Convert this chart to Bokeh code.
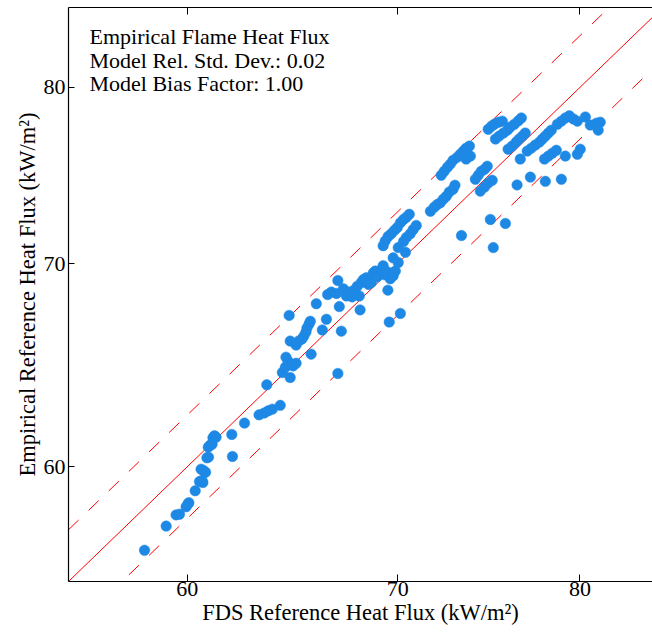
from bokeh.plotting import figure
from bokeh.models import LogAxis, Range1d, Label, FixedTicker, NumeralTickFormatter, CustomJSTickFormatter
from bokeh.embed import file_html
from bokeh.resources import INLINE

# FDS reference (x) vs empirical reference (y) heat flux, kW/m2
fds = [58.15, 59.08, 59.51, 59.66, 59.95, 60.07, 60.03, 60.35, 60.54, 60.65, 60.69, 60.61, 60.72,
       60.81, 60.87, 60.94, 60.93, 61.02, 61.10, 61.14, 61.21, 61.28, 61.99, 62.02, 62.57,
       63.24, 63.48, 63.67, 63.86, 64.23, 63.60, 64.33, 64.47, 64.60, 64.50, 64.70, 64.84, 64.98,
       64.70, 64.65, 64.98, 65.10, 65.26, 65.35, 65.45, 65.50, 65.60, 65.66, 65.70, 65.95, 66.24,
       66.44, 66.50, 66.68, 66.93, 67.00, 67.17, 67.07, 67.00, 67.27, 67.42, 67.56, 67.70, 67.80,
       67.96, 68.06, 68.16, 68.26, 68.41, 68.51, 68.66, 68.76, 68.86, 68.96, 69.06, 69.16, 69.26,
       69.36, 69.47, 69.50, 69.62, 69.77, 69.88, 70.03, 68.10, 69.57, 70.14,
       69.26, 69.36, 69.51, 69.67, 69.83, 69.98, 70.14, 70.30, 70.45, 70.60, 70.30, 70.45, 70.65,
       70.80, 70.96, 70.40, 70.03, 69.77,
       71.70, 71.90, 72.06, 72.22, 72.38, 72.54, 72.70, 72.90, 73.00, 73.35, 72.27, 72.43, 72.60,
       72.75, 72.90, 73.13, 73.29, 73.45, 73.60, 73.78, 73.60, 73.83, 74.10, 74.26, 74.42, 74.60,
       74.75, 74.37, 74.60, 74.80, 75.02, 74.92, 75.75, 75.08, 74.80, 74.98, 75.14, 75.36, 75.58,
       75.20, 75.40, 75.64, 75.86, 76.02, 76.25, 76.47, 76.64, 75.90, 76.13, 76.35, 76.52, 76.70,
       76.86, 76.40, 76.58, 76.97, 77.20, 77.43, 77.66, 77.83, 78.00, 78.17, 78.34, 77.95, 78.17,
       78.40, 78.63, 78.00, 78.92, 77.15, 78.69, 78.92, 79.15, 79.38, 79.62, 79.85, 80.32, 80.61,
       80.97, 81.20, 79.85, 80.02, 79.15, 81.08]
emp = [56.32, 57.36, 57.85, 57.88, 58.21, 58.39, 58.33, 58.92, 59.33, 59.38, 59.29, 59.89, 59.83,
       59.75, 60.41, 60.44, 60.90, 61.00, 61.03, 61.34, 61.43, 61.36, 61.49, 60.47, 62.02,
       62.41, 62.50, 62.60, 62.68, 62.86, 63.85, 64.45, 64.70, 65.00, 65.20, 64.20, 64.77, 64.90,
       66.00, 67.30, 65.80, 66.00, 66.10, 66.25, 66.45, 66.66, 66.86, 67.00, 65.35, 67.90, 66.56,
       67.10, 68.37, 68.50, 68.43, 64.40, 66.50, 67.75, 69.10, 68.67, 68.30, 68.50, 68.25, 68.60,
       68.80, 68.30, 69.00, 69.15, 69.25, 68.90, 69.00, 69.50, 69.60, 69.30, 69.50, 69.67, 69.88,
       69.40, 69.56, 68.60, 69.20, 69.35, 69.60, 70.05, 67.58, 66.96, 67.40,
       70.95, 71.20, 71.45, 71.60, 71.78, 71.94, 72.20, 72.38, 72.50, 72.66, 71.18, 71.40, 71.60,
       71.83, 72.05, 70.60, 70.85, 70.30,
       72.83, 73.05, 73.20, 73.30, 73.50, 73.66, 73.90, 74.06, 74.28, 71.50, 74.85, 75.07, 75.30,
       75.48, 75.70, 75.88, 76.05, 76.23, 76.40, 76.52, 75.77, 75.94, 74.62, 74.85, 75.07, 75.19,
       75.36, 73.95, 74.18, 74.40, 74.56, 72.38, 72.16, 70.85, 77.50, 77.68, 77.80, 77.92, 77.98,
       76.93, 77.10, 77.28, 77.45, 77.63, 77.80, 78.00, 78.17, 76.34, 76.52, 76.75, 76.93, 77.10,
       77.28, 74.30, 75.77, 76.23, 76.40, 76.58, 76.75, 76.93, 77.10, 77.28, 77.45, 75.77, 75.94,
       76.11, 76.28, 74.50, 74.62, 74.74, 77.80, 77.98, 78.17, 78.30, 78.11, 77.98, 78.23, 77.75,
       77.86, 77.92, 76.05, 76.34, 75.94, 77.45]

ticks = [60, 70, 80]
x_lo, x_hi = 55.0, 84.37
y_lo, y_hi = 55.0, 85.0
sigma_e = 0.02
bias = 1.00
info = ["Empirical Flame Heat Flux", "Model Rel. Std. Dev.: 0.02", "Model Bias Factor: 1.00"]
x_title = "FDS Reference Heat Flux (kW/m\u00b2)"
y_title = "Empirical Reference Heat Flux (kW/m\u00b2)"

FONT = "Liberation Serif"

p = figure(width=652, height=635, x_axis_type="log", y_axis_type="log",
           x_range=Range1d(x_lo, x_hi), y_range=Range1d(y_lo, y_hi),
           min_border_left=68, min_border_right=0, min_border_top=7, min_border_bottom=54,
           output_backend="svg", toolbar_location=None)
p.outline_line_color = None
p.grid.visible = False
p.background_fill_color = "white"
p.border_fill_color = "white"

# reference lines
ref_x = [x_lo, 90.0]
p.line(ref_x, [v * bias for v in ref_x], line_color="#ff0000", line_width=1)
p.line(ref_x, [v * (1 + 2 * sigma_e) for v in ref_x], line_color="#ff0000", line_width=1, line_dash="14 14")
p.line(ref_x, [v / (1 + 2 * sigma_e) for v in ref_x], line_color="#ff0000", line_width=1, line_dash="14 14")

p.scatter(fds, emp, size=10.5, fill_color="#1E88E5", line_color="#1E88E5", line_width=0.5)

def style_axis(ax, tick_in, standoff):
    ax.ticker = FixedTicker(ticks=ticks, minor_ticks=[])
    ax.formatter = NumeralTickFormatter(format="0")
    ax.major_tick_in = tick_in
    ax.major_tick_out = 0
    ax.minor_tick_line_color = None
    ax.major_tick_line_color = "black"
    ax.axis_line_color = "black"
    ax.axis_line_width = 1.2
    ax.major_label_text_font = FONT
    ax.major_label_text_font_size = "22px"
    ax.major_label_text_color = "black"
    ax.major_label_standoff = standoff
    ax.axis_label_text_font = FONT
    ax.axis_label_text_font_size = "22.5px"
    ax.axis_label_text_font_style = "normal"
    ax.axis_label_text_color = "black"

style_axis(p.xaxis[0], 7, 0)
style_axis(p.yaxis[0], 6, 3)
p.xaxis[0].axis_label = x_title
p.xaxis[0].axis_label_standoff = 1
p.yaxis[0].axis_label = y_title
p.yaxis[0].axis_label_standoff = 1

top = LogAxis()
style_axis(top, 7, 0)
top.formatter = CustomJSTickFormatter(code="return ''")
top.major_label_text_font_size = "1px"
p.add_layout(top, "above")

for i, t in enumerate(info):
    p.add_layout(Label(x=21, y=544.7 - 23.4 * i, x_units="screen", y_units="screen", text=t,
                       text_font=FONT, text_font_size="22px", text_color="black",
                       text_baseline="alphabetic"))

open("out.html", "w").write(file_html(p, INLINE))
